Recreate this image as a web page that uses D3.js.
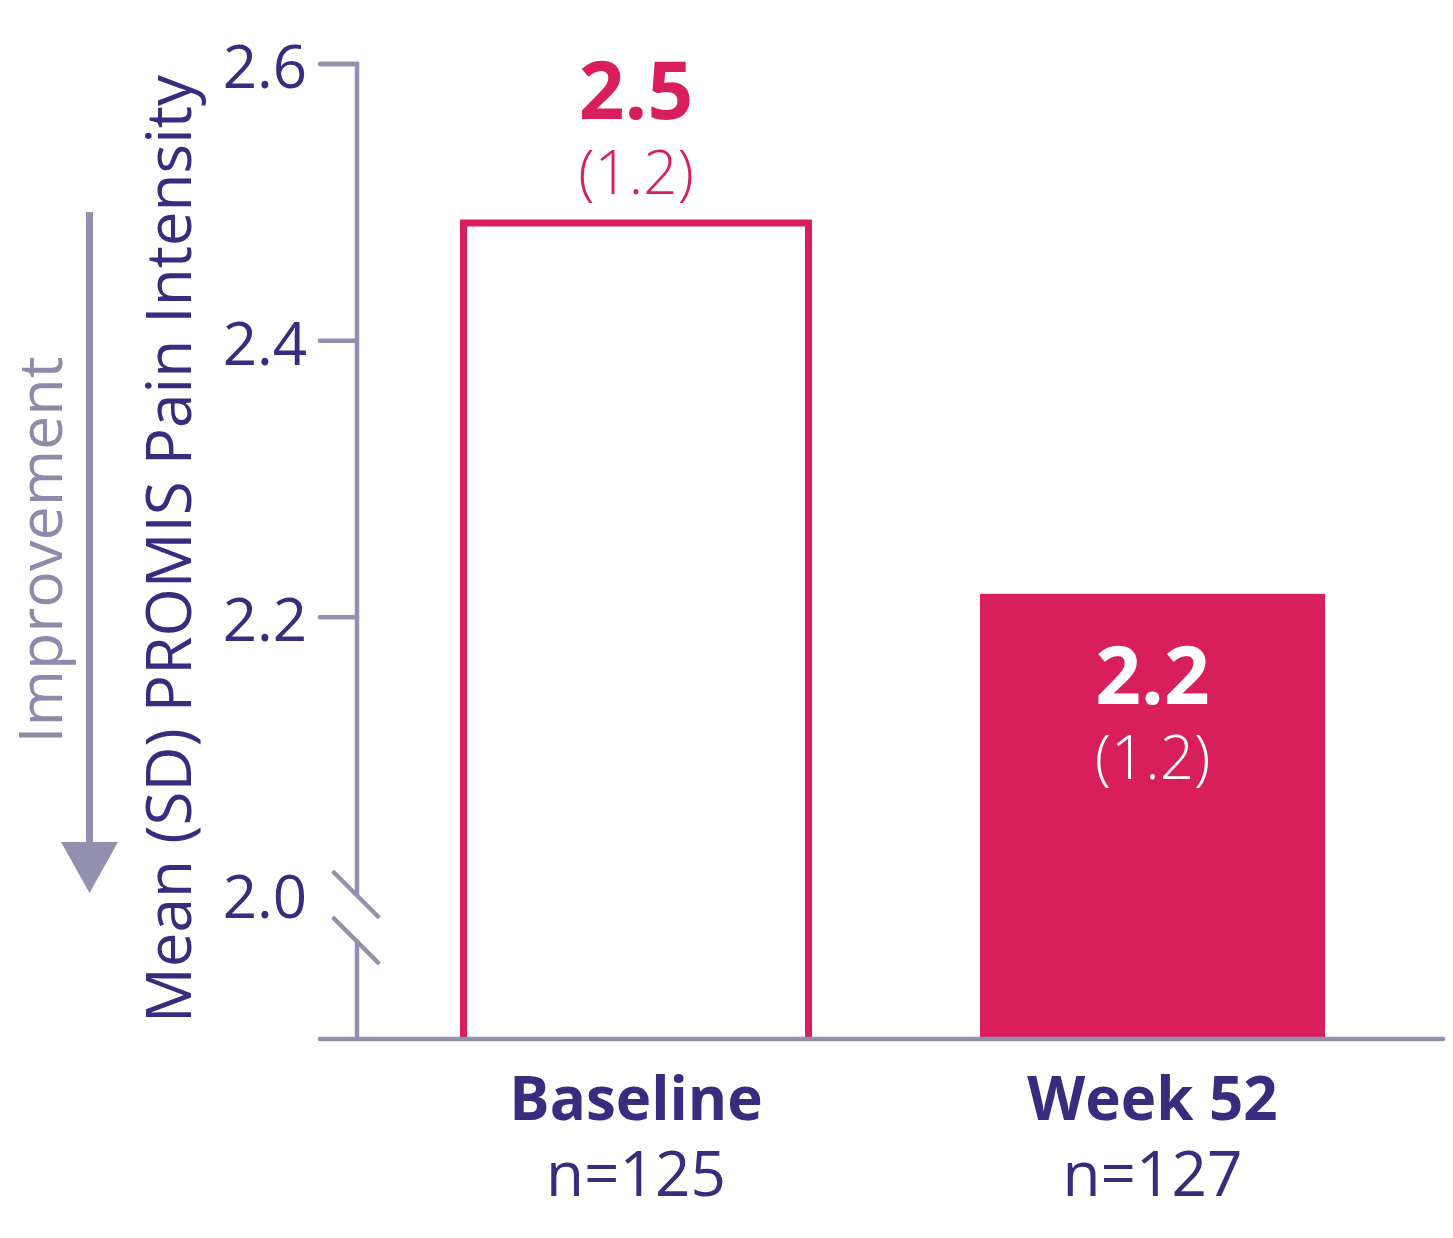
<!DOCTYPE html>
<html>
<head>
<meta charset="utf-8">
<script src="https://cdn.jsdelivr.net/npm/d3@7"></script>
<style>
  html, body { margin: 0; padding: 0; background: #ffffff; }
  svg { display: block; }
  text { font-family: "Open Sans", "Noto Sans", sans-serif; }
</style>
</head>
<body>
<svg id="chart" width="1453" height="1238"></svg>
<script>
// ---- data ----
const categories = ["Baseline", "Week 52"];
const sampleSizes = ["n=125", "n=127"];
const meanValues = [2.485, 2.217];
const meanLabels = ["2.5", "2.2"];
const sdLabels = ["(1.2)", "(1.2)"];
const yTicks = [2.0, 2.2, 2.4, 2.6];
const yTickLabels = ["2.0", "2.2", "2.4", "2.6"];
const yTitle = "Mean (SD) PROMIS Pain Intensity";
const arrowLabel = "Improvement";

// ---- style ----
const RED = "#d91e5c";
const PURPLE = "#382c7e";
const GRAY = "#9290ae";
const GRAY_TEXT = "#8d8bab";

const svg = d3.select("#chart");

const axisX = 357, axisBottom = 1039, axisRight = 1443;
const y = d3.scaleLinear().domain([2.0, 2.6]).range([894, 64]);
const x = d3.scaleBand().domain(categories).range([463.5, 1325]).paddingInner(0.332).paddingOuter(0);

// ---- bars ----
categories.forEach((c, i) => {
  const x0 = x(c), w = x.bandwidth(), top = y(meanValues[i]);
  if (i === 0) {
    svg.append("path")
      .attr("d", d3.line()([[x0, axisBottom], [x0, top], [x0 + w, top], [x0 + w, axisBottom]]))
      .attr("fill", "#fff").attr("stroke", RED).attr("stroke-width", 7);
  } else {
    svg.append("rect")
      .attr("x", x0).attr("y", top).attr("width", w).attr("height", axisBottom - top)
      .attr("fill", RED);
  }
});

// ---- axes ----
const ax = svg.append("g").attr("stroke", GRAY).attr("stroke-width", 4.5).attr("fill", "none").attr("stroke-linecap", "round");
ax.append("path").attr("d", d3.line()([[320, y(2.6)], [axisX, y(2.6)], [axisX, y(2.0) + 1]]))
  .attr("stroke-linejoin", "miter").attr("stroke-linecap", "butt");
ax.append("line").attr("x1", 320).attr("x2", axisX).attr("y1", y(2.6)).attr("y2", y(2.6));
ax.append("line").attr("x1", axisX).attr("x2", axisX).attr("y1", y(2.0) + 46).attr("y2", axisBottom).attr("stroke-linecap", "butt");
yTicks.filter(t => t !== 2.0 && t !== 2.6).forEach(t => {
  ax.append("line").attr("x1", 320).attr("x2", axisX).attr("y1", y(t)).attr("y2", y(t));
});
[1.5, 47.5].forEach(off => {
  const cy = y(2.0) + off;
  ax.append("line").attr("x1", axisX - 23).attr("y1", cy - 23).attr("x2", axisX + 21).attr("y2", cy + 21);
});
ax.append("line").attr("x1", 320).attr("x2", axisRight).attr("y1", axisBottom).attr("y2", axisBottom);

svg.append("g").selectAll("text").data(yTicks).join("text")
  .attr("x", 307).attr("y", d => y(d) + 24)
  .attr("text-anchor", "end").attr("font-size", 60).attr("fill", PURPLE)
  .text((d, i) => yTickLabels[i]);

// ---- value labels ----
categories.forEach((c, i) => {
  const cx = x(c) + x.bandwidth() / 2, top = y(meanValues[i]);
  const inside = i === 1;
  const col = inside ? "#ffffff" : RED;
  const vBase = inside ? top + 110 : top - 104;
  const sBase = inside ? top + 185 : top - 29;
  svg.append("text").attr("x", cx).attr("y", vBase).attr("text-anchor", "middle")
    .attr("font-size", 80).attr("font-weight", 700).attr("fill", col).text(meanLabels[i]);
  svg.append("text").attr("x", cx).attr("y", sBase).attr("text-anchor", "middle")
    .attr("font-size", 60).attr("font-weight", 300).attr("fill", col).text(sdLabels[i]);
});

// ---- category labels ----
categories.forEach((c, i) => {
  const cx = x(c) + x.bandwidth() / 2;
  svg.append("text").attr("x", cx).attr("y", 1120).attr("text-anchor", "middle")
    .attr("font-size", 60).attr("font-weight", 700).attr("fill", PURPLE).text(c);
  svg.append("text").attr("x", cx).attr("y", 1196).attr("text-anchor", "middle")
    .attr("font-size", 62).attr("font-weight", 400).attr("fill", PURPLE).text(sampleSizes[i]);
});

// ---- y title ----
function fit(sel, target) {
  const len = sel.node().getComputedTextLength();
  if (len > target) sel.attr("textLength", target).attr("lengthAdjust", "spacingAndGlyphs");
}
const title = svg.append("text")
  .attr("transform", "translate(191,549) rotate(-90)")
  .attr("text-anchor", "middle").attr("font-size", 62).attr("fill", PURPLE).text(yTitle);
fit(title, 948);

// ---- improvement arrow ----
svg.append("rect").attr("x", 86).attr("y", 212).attr("width", 7).attr("height", 634).attr("fill", GRAY);
svg.append("path").attr("d", d3.line()([[61, 842], [118, 842], [89.5, 893]]) + "Z").attr("fill", GRAY);
const imp = svg.append("text")
  .attr("transform", "translate(62,550) rotate(-90)")
  .attr("text-anchor", "middle").attr("font-size", 61).attr("fill", GRAY_TEXT).text(arrowLabel);
fit(imp, 410);
</script>
</body>
</html>
